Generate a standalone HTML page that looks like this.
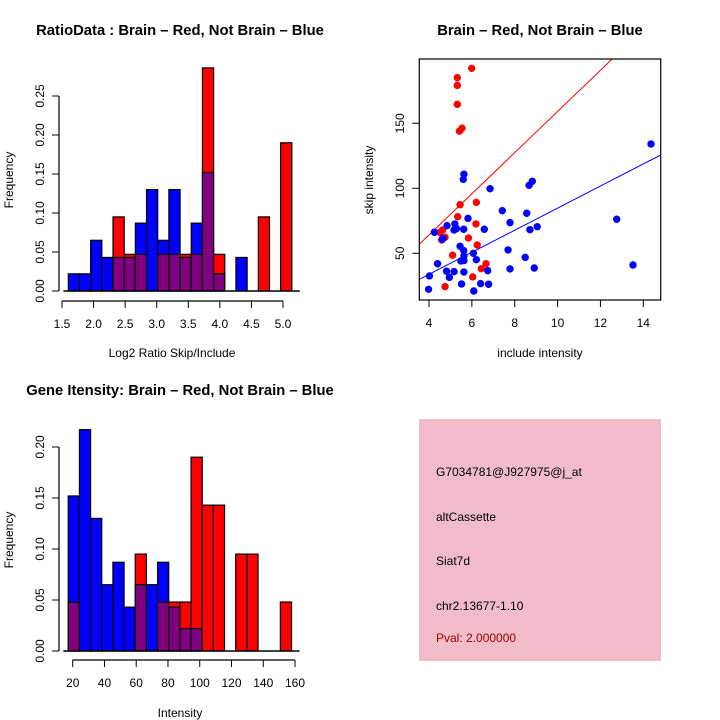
<!DOCTYPE html>
<html><head><meta charset="utf-8"><style>
body{margin:0;background:#fff}
svg{display:block;font-family:"Liberation Sans",sans-serif}
</style></head><body>
<svg id="s" width="720" height="720" viewBox="0 0 720 720">
<defs><pattern id="pk" width="2" height="2" patternUnits="userSpaceOnUse"><rect width="2" height="2" fill="#f6c4ce"/><rect width="1" height="1" fill="#eeb4c2"/><rect x="1" y="1" width="1" height="1" fill="#eeb4c2"/></pattern></defs>
<text x="180" y="35" text-anchor="middle" font-weight="bold" font-size="14.8">RatioData : Brain – Red, Not Brain – Blue</text>
<text x="540" y="35" text-anchor="middle" font-weight="bold" font-size="14.8">Brain – Red, Not Brain – Blue</text>
<text x="180" y="395" text-anchor="middle" font-weight="bold" font-size="14.8">Gene Itensity: Brain – Red, Not Brain – Blue</text>
<g id="h1"></g>
<g id="h2"></g>
<g id="sc"></g>
<g>
<rect x="419" y="419" width="242" height="242" fill="url(#pk)"/>
<text x="436" y="476" font-size="12">G7034781@J927975@j_at</text>
<text x="436" y="521" font-size="12">altCassette</text>
<text x="436" y="565" font-size="12">Siat7d</text>
<text x="436" y="610" font-size="12">chr2.13677-1.10</text>
<text x="436" y="642" font-size="12" fill="#a00000">Pval: 2.000000</text>
</g>
</svg>
<script>
const ratioStart=1.60, ratioWidth=0.177;
const ratioBlue=[.022,.022,.065,.043,.043,.043,.087,.130,.065,.130,.043,.087,.152,.022,0,.043,0,0,0,0];
const ratioRed=[0,0,0,0,.095,.047,.047,0,.047,.047,.047,.047,.286,.047,0,0,0,.095,0,.190];
const ratioXTicks=[1.5,2.0,2.5,3.0,3.5,4.0,4.5,5.0];
const ratioYTicks=[0,0.05,0.10,0.15,0.20,0.25];
const intStart=17.2, intWidth=7.03;
const intBlue=[.152,.217,.130,.065,.087,.043,.065,.065,.087,.043,.022,.022,0,0,0,0,0,0,0,0];
const intRed=[.048,0,0,0,0,0,.095,0,.048,.048,.048,.190,.143,.143,0,.095,.095,0,0,.048];
const intXTicks=[20,40,60,80,100,120,140,160];
const intYTicks=[0,0.05,0.10,0.15,0.20];
const redX=[5.99,5.32,5.32,5.32,5.42,5.54,5.45,5.34,6.21,6.19,4.64,4.51,4.59,4.75,5.84,6.25,5.10,6.66,6.44,6.04,4.75];
const redY=[192.3,185.1,179.2,164.6,144,146.2,87.4,78.2,89.2,72.6,68,66,60.3,62.3,61.8,56.4,48.5,42,38.2,31.8,24.4];
const blueX=[14.36,5.63,5.6,8.67,8.82,6.85,7.42,8.56,5.82,7.78,9.05,8.71,12.76,4.25,4.84,5.21,5.28,5.17,5.62,6.58,4.62,4.65,5.45,5.62,6.07,7.69,5.63,6.21,5.49,5.63,8.49,4.40,13.52,7.78,8.91,6.74,4.82,5.17,5.63,4.95,4.02,5.52,6.41,6.78,3.98,6.09];
const blueY=[134.1,110.8,106.9,102.3,105.4,99.7,82.8,80.8,76.9,73.6,70.5,68.2,76.2,66.2,71.3,72.6,69,67.9,68.5,68.5,60.8,61.5,55.4,52.1,50,52.6,47.9,45.1,44.1,44.4,46.9,42,41,38,38.7,36.7,36.2,35.9,35.6,31.5,32.6,26.4,26.7,26.2,22.3,21];
const scXTicks=[4,6,8,10,12,14];
const scYTicks=[50,100,150];
const redFit=[0.8,15.83], blueFit=[-0.14,8.49];
const NS='http://www.w3.org/2000/svg';
function mk(p,t,a){const e=document.createElementNS(NS,t);for(const k in a)e.setAttribute(k,a[k]);p.appendChild(e);return e;}
function hist(g,start,w,blue,red,xt,yt,X,Y,y0,xfmt,yfmt){
 for(let i=0;i<blue.length;i++){
  const b=blue[i],r=red[i];if(b===0&&r===0)continue;
  const x1=X(start+i*w),x2=X(start+(i+1)*w);
  const mx=Math.max(b,r),mn=Math.min(b,r);
  let e=mk(g,'rect',{x:x1,y:Y(mx),width:x2-x1,height:Y(0)-Y(mx),fill:b>=r?'#0000ff':'#ff0000',stroke:'#000','stroke-width':1.2});
  
  
  if(mn>0){e=mk(g,'rect',{x:x1,y:Y(mn),width:x2-x1,height:Y(0)-Y(mn),fill:'#800080',stroke:'#000','stroke-width':1.2});
  
  }
 }
 mk(g,'line',{x1:X(start)-5,x2:X(start+20*w)+8,y1:Y(0),y2:Y(0),stroke:'#000','stroke-width':1.5});
 mk(g,'line',{x1:59,x2:59,y1:Y(yt[0]),y2:Y(yt[yt.length-1]),stroke:'#000','stroke-width':1.2});
 yt.forEach(v=>{mk(g,'line',{x1:52,x2:59,y1:Y(v),y2:Y(v),stroke:'#000'});
  const t=mk(g,'text',{x:0,y:0,'font-size':12,'text-anchor':'middle',transform:`translate(44,${Y(v)}) rotate(-90)`});t.textContent=yfmt(v);
  
  });
 mk(g,'line',{x1:X(xt[0]),x2:X(xt[xt.length-1]),y1:y0,y2:y0,stroke:'#000','stroke-width':1.2});
 xt.forEach(v=>{mk(g,'line',{x1:X(v),x2:X(v),y1:y0,y2:y0+7,stroke:'#000'});
  const t=mk(g,'text',{x:X(v),y:y0+27,'font-size':12,'text-anchor':'middle'});t.textContent=xfmt(v);
  
  });
}
const h1=document.getElementById('h1');
hist(h1,ratioStart,ratioWidth,ratioBlue,ratioRed,ratioXTicks,ratioYTicks,v=>62+(v-1.5)*63.14,v=>291-v*780,301,v=>v.toFixed(1),v=>v.toFixed(2));
let t=mk(h1,'text',{x:172,y:357,'font-size':12,'text-anchor':'middle'});t.textContent='Log2 Ratio Skip/Include';

t=mk(h1,'text',{x:0,y:0,'font-size':12,'text-anchor':'middle',transform:'translate(13,180) rotate(-90)'});t.textContent='Frequency';

const h2=document.getElementById('h2');
hist(h2,intStart,intWidth,intBlue,intRed,intXTicks,intYTicks,v=>72.7+(v-20)*1.588,v=>651-v*1020,660,v=>String(v),v=>v.toFixed(2));
t=mk(h2,'text',{x:180,y:717,'font-size':12,'text-anchor':'middle'});t.textContent='Intensity';

t=mk(h2,'text',{x:0,y:0,'font-size':12,'text-anchor':'middle',transform:'translate(13,540) rotate(-90)'});t.textContent='Frequency';

const sc=document.getElementById('sc');
const SX=v=>429+(v-4)*21.43, SY=v=>253.3-(v-50)*1.3;
const L=419.3,R=660.7,T=59,B=300;
mk(sc,'clipPath',{id:'cp'}).appendChild(document.createElementNS(NS,'rect'));
const cr=document.querySelector('#cp rect');cr.setAttribute('x',L);cr.setAttribute('y',T);cr.setAttribute('width',R-L);cr.setAttribute('height',B-T);
const xA=(L-429)/21.43+4, xB=(R-429)/21.43+4;
[[redFit,'#ff0000'],[blueFit,'#0000ff']].forEach(([f,c])=>{const e=mk(sc,'line',{x1:SX(xA),y1:SY(f[0]+f[1]*xA),x2:SX(xB),y2:SY(f[0]+f[1]*xB),stroke:c,'stroke-width':1,'clip-path':'url(#cp)'});
 });
redX.forEach((x,i)=>{const e=mk(sc,'circle',{cx:SX(x),cy:SY(redY[i]),r:3.7,fill:'#ff0000'});
 });
blueX.forEach((x,i)=>{const e=mk(sc,'circle',{cx:SX(x),cy:SY(blueY[i]),r:3.7,fill:'#0000ff'});
 });
mk(sc,'rect',{x:L,y:T,width:R-L,height:B-T,fill:'none',stroke:'#000','stroke-width':1.2});
scXTicks.forEach(v=>{mk(sc,'line',{x1:SX(v),x2:SX(v),y1:B,y2:B+7,stroke:'#000'});
 const e=mk(sc,'text',{x:SX(v),y:B+27,'font-size':12,'text-anchor':'middle'});e.textContent=v;
 });
scYTicks.forEach(v=>{mk(sc,'line',{x1:L-7,x2:L,y1:SY(v),y2:SY(v),stroke:'#000'});
 const e=mk(sc,'text',{x:0,y:0,'font-size':12,'text-anchor':'middle',transform:`translate(404,${SY(v)}) rotate(-90)`});e.textContent=v;
 });
t=mk(sc,'text',{x:540,y:357,'font-size':12,'text-anchor':'middle'});t.textContent='include intensity';

t=mk(sc,'text',{x:0,y:0,'font-size':12,'text-anchor':'middle',transform:'translate(373,180) rotate(-90)'});t.textContent='skip intensity';

</script>
</body></html>
